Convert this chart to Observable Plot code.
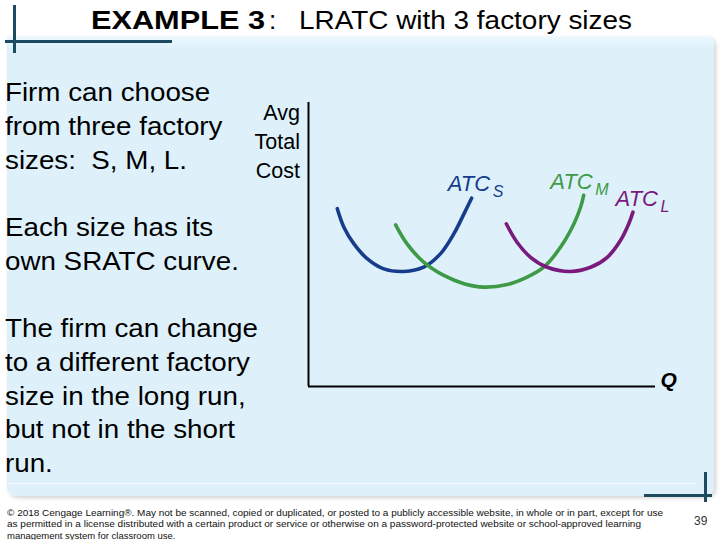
<!DOCTYPE html>
<html>
<head>
<meta charset="utf-8">
<script src="https://cdn.jsdelivr.net/npm/d3@7"></script>
<script src="https://cdn.jsdelivr.net/npm/@observablehq/plot@0.6"></script>
<style>
  body { margin: 0; background: #fff; }
  #slide { position: relative; width: 720px; height: 540px; overflow: hidden;
           font-family: "Liberation Sans", Arial, sans-serif; color: #000; background: #fff; }
  .abs { position: absolute; white-space: pre; }
</style>
</head>
<body>
<div id="slide"></div>
<script>
// ---------- texts ----------
const titleBold = "EXAMPLE 3";
const titleColon = ":";
const titleRest = "LRATC with 3 factory sizes";
const bodyLines = [
  "Firm can choose", "from three factory", "sizes:  S, M, L.", "",
  "Each size has its", "own SRATC curve.", "",
  "The firm can change", "to a different factory", "size in the long run,", "but not in the short", "run."
];
const yAxisLabel = ["Avg", "Total", "Cost"];
const xAxisLabel = "Q";
const curveLabel = "ATC";
const footerLines = [
  "\u00A9 2018 Cengage Learning\u00AE. May not be scanned, copied or duplicated, or posted to a publicly accessible website, in whole or in part, except for use",
  "as permitted in a license distributed with a certain product or service or otherwise on a password-protected website or school-approved learning",
  "management system for classroom use."
];
const pageNumber = "39";

// ---------- data (Q, average total cost) ----------
const sizes = ["S", "M", "L"];
const qS = [8.3, 10.2, 13.1, 16.9, 21.7, 27.5, 33.2, 38.0, 41.9, 44.8, 47.0];
const cS = [62.6, 56.1, 50.2, 45.0, 41.4, 40.5, 42.0, 46.7, 53.8, 60.8, 66.3];
const qM = [25.1, 28.4, 33.2, 39.0, 44.8, 50.5, 57.3, 63.0, 67.8, 72.6, 76.5, 78.4, 79.3];
const cM = [56.9, 50.2, 43.8, 39.1, 36.2, 35.0, 35.9, 38.5, 42.0, 49.0, 57.3, 63.1, 67.3];
const qL = [57.0, 60.1, 64.0, 68.8, 75.5, 81.3, 86.1, 89.9, 92.3, 93.5];
const cL = [57.3, 50.8, 45.5, 42.0, 40.5, 42.0, 45.5, 51.4, 57.3, 61.4];
const labelQ = [40.1, 69.7, 88.5];
const labelC = [68.8, 69.7, 63.7];

const curveRows = [];
[[qS, cS], [qM, cM], [qL, cL]].forEach(([qs, cs], k) =>
  qs.forEach((q, i) => curveRows.push({size: sizes[k], q, c: cs[i]})));
const labelRows = sizes.map((s, i) => ({size: s, q: labelQ[i], c: labelC[i]}));

// ---------- slide decoration ----------
const slide = document.getElementById("slide");
function el(css, text) {
  const d = document.createElement("div");
  d.className = "abs";
  d.style.cssText += css;
  if (text !== undefined) d.textContent = text;
  slide.appendChild(d);
  return d;
}
function fit(d, target) {
  const w = d.getBoundingClientRect().width;
  d.style.transformOrigin = "0 0";
  d.style.transform = `scaleX(${target / w})`;
}
const dark = "#1c4a5e";

// panel
el("left:7px;top:36px;width:707px;height:460px;background:linear-gradient(#eef8fd 0px,#def1fb 12px);" +
   "border-radius:0 8px 9px 9px;box-shadow:2px 2px 4px rgba(0,0,0,0.18);");
el("left:8px;top:483px;width:688px;height:1px;background:#f6fbfe;");
// corner marks
el(`left:13px;top:5px;width:3px;height:48px;background:${dark};`);
el(`left:5px;top:40px;width:167px;height:3px;background:${dark};`);
el(`left:704px;top:472px;width:3px;height:30px;background:${dark};`);
el(`left:644px;top:494px;width:68px;height:3px;background:${dark};`);

// title
const t1 = el("left:91px;top:5px;font-size:26px;line-height:30px;font-weight:bold;", titleBold);
fit(t1, 174);
el("left:269px;top:5px;font-size:26px;line-height:30px;", titleColon);
const t3 = el("left:299px;top:5px;font-size:26px;line-height:30px;", titleRest);
fit(t3, 333);

// body text
bodyLines.forEach((s, i) => {
  if (!s) return;
  const d = el(`left:5px;top:${76.2 + i * 33.7}px;font-size:25px;line-height:33.7px;`, s);
  d.style.transformOrigin = "0 0";
  d.style.transform = "scaleX(1.11)";
});

// y-axis label
yAxisLabel.forEach((s, i) => {
  el(`right:420px;top:${99 + i * 29}px;font-size:21.5px;line-height:29px;text-align:right;`, s);
});

// footer
const footTargets = [656, 634, null];
footerLines.forEach((s, i) => {
  const d = el(`left:7px;top:${507 + i * 11.3}px;font-size:9.5px;line-height:11.3px;color:#111;`, s);
  if (footTargets[i]) fit(d, footTargets[i]);
});
el("left:694px;top:514px;font-size:12px;line-height:14px;color:#333;", pageNumber);

// ---------- chart ----------
const chart = Plot.plot({
  width: 720,
  height: 540,
  marginLeft: 308,
  marginRight: 65,
  marginTop: 102,
  marginBottom: 154,
  x: {domain: [0, 100], axis: null},
  y: {domain: [0, 100], axis: null},
  color: {domain: sizes, range: ["#173c8c", "#3f9a47", "#7a1a7c"]},
  style: {background: "transparent", fontFamily: "Liberation Sans, Arial, sans-serif", overflow: "visible"},
  marks: [
    Plot.ruleX([0], {stroke: "#000", strokeWidth: 2}),
    Plot.ruleY([0], {stroke: "#000", strokeWidth: 2}),
    Plot.line(curveRows, {x: "q", y: "c", z: "size", stroke: "size", strokeWidth: 3.6, curve: "catmull-rom"}),
    Plot.text(labelRows, {x: "q", y: "c", text: () => curveLabel, fill: "size", fontSize: 22,
      fontStyle: "italic", textAnchor: "start", lineAnchor: "bottom"}),
    Plot.text(labelRows, {x: "q", y: "c", text: "size", fill: "size", fontSize: 16,
      fontStyle: "italic", textAnchor: "start", lineAnchor: "bottom", dx: 45, dy: 6}),
    Plot.text([xAxisLabel], {frameAnchor: "bottom-right", text: d => d, textAnchor: "start", dx: 5,
      fontSize: 21, fontWeight: "bold", fontStyle: "italic", fill: "#000"})
  ]
});
const wrap = document.createElement("div");
wrap.style.cssText = "position:absolute;left:0;top:0;width:720px;height:540px;";
wrap.appendChild(chart);
slide.appendChild(wrap);
</script>
</body>
</html>
